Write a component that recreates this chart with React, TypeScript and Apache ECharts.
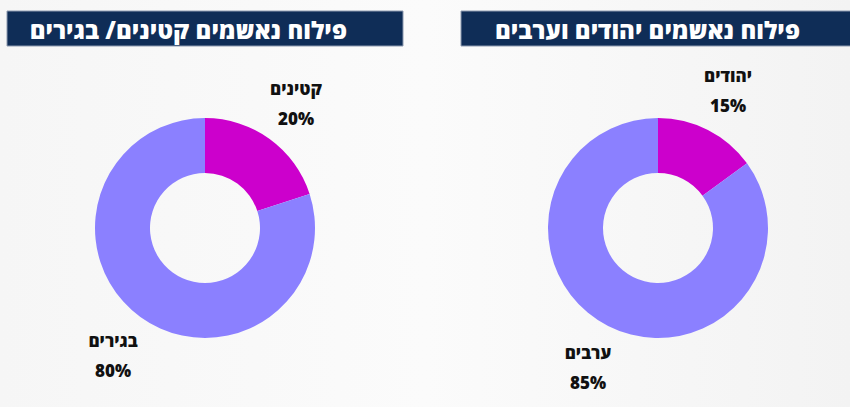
import React, { useEffect, useRef } from "react";
import * as echarts from "echarts";

const ageCategories = ["קטינים", "בגירים"];
const ageValues = [20, 80];
const originCategories = ["יהודים", "ערבים"];
const originValues = [15, 85];
const titles = ["פילוח נאשמים קטינים/ בגירים", "פילוח נאשמים יהודים וערבים"];
const sliceColors = ["#cc00cc", "#8b80ff"];

const labelPos: Record<number, [number, number][]> = {
  0: [
    [296, 103],
    [113, 355],
  ],
  1: [
    [728, 90],
    [588, 367],
  ],
};

export default function App() {
  const ref = useRef<HTMLDivElement>(null);
  useEffect(() => {
    if (!ref.current) return;
    const chart = echarts.init(ref.current, undefined, { renderer: "svg" });
    const font = "'Open Sans', 'DejaVu Sans', 'Liberation Sans', sans-serif";
    const makeSeries = (idx: number, cats: string[], vals: number[], cx: number) => ({
      type: "pie",
      center: [cx, 228],
      radius: [55, 110],
      startAngle: 90,
      clockwise: true,
      silent: true,
      data: cats.map((c, i) => ({ name: c, value: vals[i], itemStyle: { color: sliceColors[i] } })),
      label: {
        show: true,
        position: "outside",
        formatter: (p: any) => `${p.name}\n${p.value}%`,
        fontFamily: font,
        fontWeight: 800,
        fontSize: 17,
        lineHeight: 30,
        color: "#111",
        align: "center",
      },
      labelLine: { show: false },
      labelLayout: (p: any) => {
        const pos = labelPos[idx][p.dataIndex];
        return { x: pos[0], y: pos[1], align: "center", verticalAlign: "middle" };
      },
    });
    chart.setOption({
      animation: false,
      backgroundColor: {
        type: "linear",
        x: 0,
        y: 0,
        x2: 1,
        y2: 0,
        colorStops: [
          { offset: 0, color: "#f6f6f6" },
          { offset: 0.5, color: "#fbfbfb" },
          { offset: 1, color: "#f3f3f3" },
        ],
      },
      graphic: [
        {
          type: "rect",
          shape: { x: 7, y: 11, width: 396, height: 35 },
          style: { fill: "#0f2d57", stroke: "#8d9ab0", lineWidth: 1 },
        },
        {
          type: "rect",
          shape: { x: 461, y: 11, width: 395, height: 35 },
          style: { fill: "#0f2d57", stroke: "#8d9ab0", lineWidth: 1 },
        },
        {
          type: "text",
          x: 347,
          y: 29,
          style: {
            text: titles[0],
            fill: "#ffffff",
            font: `800 24px ${font}`,
            align: "right",
            verticalAlign: "middle",
          },
        },
        {
          type: "text",
          x: 800,
          y: 29,
          style: {
            text: titles[1],
            fill: "#ffffff",
            font: `800 24px ${font}`,
            align: "right",
            verticalAlign: "middle",
          },
        },
      ],
      series: [
        makeSeries(0, ageCategories, ageValues, 205),
        makeSeries(1, originCategories, originValues, 658),
      ],
    });
    return () => chart.dispose();
  }, []);
  return (
    <div
      ref={ref}
      style={{ position: "fixed", left: 0, top: 0, width: 850, height: 407 }}
    />
  );
}
